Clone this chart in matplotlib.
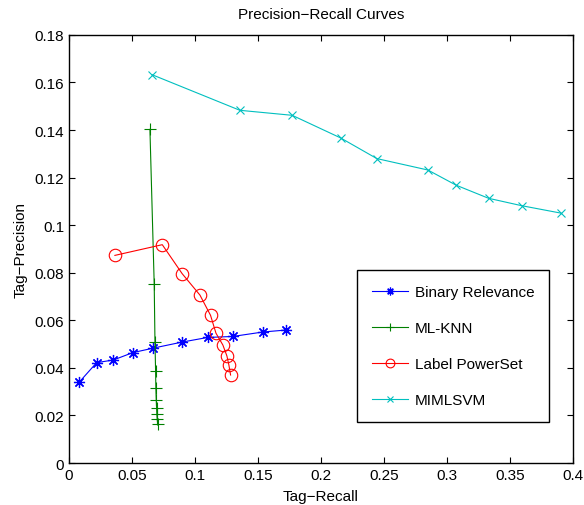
import matplotlib.pyplot as plt

plt.rcParams['font.family'] = ['Liberation Sans', 'DejaVu Sans']

br_recall = [0.0082, 0.0220, 0.0352, 0.0506, 0.0669, 0.0894, 0.1101, 0.1299, 0.1542, 0.1722]
br_prec = [0.0340, 0.0422, 0.0433, 0.0464, 0.0483, 0.0508, 0.0528, 0.0532, 0.0551, 0.0559]

knn_recall = [0.0643, 0.0677, 0.0683, 0.0688, 0.0690, 0.0693, 0.0696, 0.0698, 0.0701, 0.0704]
knn_prec = [0.1403, 0.0751, 0.0509, 0.0387, 0.0317, 0.0267, 0.0232, 0.0204, 0.0183, 0.0166]

lp_recall = [0.0365, 0.0741, 0.0899, 0.1040, 0.1124, 0.1167, 0.1222, 0.1254, 0.1270, 0.1283]
lp_prec = [0.0873, 0.0918, 0.0796, 0.0706, 0.0621, 0.0546, 0.0496, 0.0450, 0.0411, 0.0370]

svm_recall = [0.0659, 0.1357, 0.1772, 0.2156, 0.2444, 0.2849, 0.3074, 0.3331, 0.3593, 0.3902]
svm_prec = [0.1633, 0.1483, 0.1462, 0.1367, 0.1280, 0.1232, 0.1168, 0.1113, 0.1082, 0.1051]

fig = plt.figure(figsize=(5.84, 5.06), dpi=100)
ax = fig.add_axes([0.118, 0.083, 0.863, 0.846])

lw = 0.8
ax.plot(br_recall, br_prec, '-', marker=(8, 2, 0), color=(0, 0, 1), lw=lw, ms=8, mew=0.9, label='Binary Relevance')
ax.plot(knn_recall, knn_prec, '-+', color=(0, 0.5, 0), lw=lw, ms=9, mew=0.8, label='ML-KNN')
ax.plot(lp_recall, lp_prec, '-o', color=(1, 0, 0), lw=lw, ms=9, mew=0.8, mfc='none', label='Label PowerSet')
ax.plot(svm_recall, svm_prec, '-x', color=(0, 0.75, 0.75), lw=lw, ms=6, mew=0.8, label='MIMLSVM')

ax.set_xlim(0, 0.4)
ax.set_ylim(0, 0.18)
ax.set_xticks([0, 0.05, 0.1, 0.15, 0.2, 0.25, 0.3, 0.35, 0.4])
ax.set_xticklabels(['0', '0.05', '0.1', '0.15', '0.2', '0.25', '0.3', '0.35', '0.4'])
ax.set_yticks([0, 0.02, 0.04, 0.06, 0.08, 0.1, 0.12, 0.14, 0.16, 0.18])
ax.set_yticklabels(['0', '0.02', '0.04', '0.06', '0.08', '0.1', '0.12', '0.14', '0.16', '0.18'])
ax.tick_params(direction='in', top=True, right=True, labelsize=11, length=4, width=0.8)
for s in ax.spines.values():
    s.set_linewidth(1.0)

ax.set_xlabel('Tag\u2212Recall', fontsize=11, labelpad=5)
ax.set_ylabel('Tag\u2212Precision', fontsize=11, labelpad=5)
ax.set_title('Precision\u2212Recall Curves', fontsize=11, pad=12)

leg = ax.legend(loc='lower right', bbox_to_anchor=(0.952, 0.096), borderaxespad=0, fontsize=11,
                labelspacing=1.45, borderpad=0.95, handlelength=2.4, handletextpad=0.4,
                markerscale=0.7, fancybox=False, framealpha=1, edgecolor='black')
leg.get_frame().set_linewidth(1.0)

fig.savefig('out.png', dpi=100)
